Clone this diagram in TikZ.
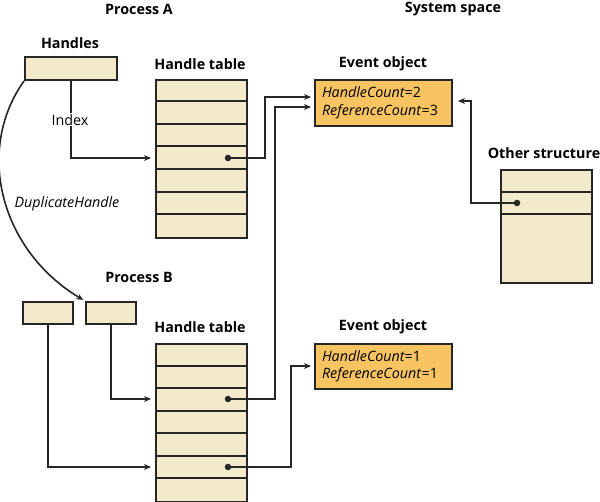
\documentclass[tikz,border=0pt]{standalone}
\usepackage{fontspec}
\setmainfont{Open Sans}
\usetikzlibrary{arrows.meta,calc}
\definecolor{beige}{HTML}{F2EACB}
\definecolor{orangec}{HTML}{F8C462}
\definecolor{linec}{HTML}{262626}
\begin{document}
\begin{tikzpicture}[x=1pt,y=-1pt,
  every node/.style={font=\fontsize{14.3}{16}\selectfont},
  title/.style={font=\fontsize{14.3}{16}\selectfont\bfseries, inner sep=0pt},
  tbl/.style={draw=linec, fill=beige, line width=2pt, inner sep=0pt, anchor=north west, minimum width=91pt},
  hbox/.style={draw=linec, fill=beige, line width=2pt, inner sep=0pt, anchor=north west, minimum height=22pt},
  sep/.style={draw=linec, line width=2pt},
  evbox/.style={draw=linec, fill=orangec, line width=2pt, anchor=north west, minimum width=137pt, minimum height=46pt, align=left, inner xsep=7pt, inner ysep=0pt, text width=123pt, font=\fontsize{14.3}{17.5}\selectfont\itshape},
  conn/.style={draw=linec, line width=2pt, -{Stealth[length=7pt,width=6pt]}, shorten >=4pt},
  dot/.style={circle, fill=linec, inner sep=0pt, minimum size=6.5pt}
]
\useasboundingbox (0,0) rectangle (600,502);

% titles
\node[title] (tPA) at (139,9) {Process A};
\node[title] (tSS) at (453,9) {System space};
\node[title] (tH) at (70,43) {Handles};
\node[title] (tHTA) at (200,64) {Handle table};
\node[title] (tEOA) at (383,64) {Event object};
\node[title] (tOS) at (544,153) {Other structure};
\node[title] (tPB) at (139,277) {Process B};
\node[title] (tHTB) at (200,327) {Handle table};
\node[title] (tEOB) at (383,327) {Event object};

% handles
\node[hbox, minimum width=92pt, minimum height=23pt] (hA) at (24,56) {};
\node[hbox, minimum width=50pt] (hB1) at (22,301) {};
\node[hbox, minimum width=50pt] (hB2) at (85,301) {};

% tables
\node[tbl, minimum height=158pt] (tA) at (155,79) {};
\node[tbl, minimum height=158pt] (tB) at (155,343) {};
\foreach \y in {101,124,146,169,192,214} {
  \draw[sep] (tA.west |- 0,\y) -- (tA.east |- 0,\y);
}
\foreach \y in {366,388,411,433,456,478} {
  \draw[sep] (tB.west |- 0,\y) -- (tB.east |- 0,\y);
}
\coordinate (ra4) at (200,158);
\coordinate (rb3) at (200,399);
\coordinate (rb6) at (200,467);

% other structure
\node[tbl, minimum height=113pt] (os) at (500,169) {};
\draw[sep] (os.west |- 0,192) -- (os.east |- 0,192);
\draw[sep] (os.west |- 0,214) -- (os.east |- 0,214);
\coordinate (osr) at (545,203);

% event objects
\node[evbox] (evA) at (314,79) {\textit{HandleCount}\upshape=2\\\textit{ReferenceCount}\upshape=3};
\node[evbox, minimum height=45pt] (evB) at (314,343) {\textit{HandleCount}\upshape=1\\\textit{ReferenceCount}\upshape=1};

% dots
\node[dot] (dA) at (ra4 -| 228,0) {};
\node[dot] (dB3) at (rb3 -| 228,0) {};
\node[dot] (dB6) at (rb6 -| 228,0) {};
\node[dot] (dO) at (osr -| 517,0) {};

% connectors
\draw[conn] (hA.south) |- (tA.west |- ra4);
\node[fill=white, inner sep=1pt] (idx) at (70,120) {Index};
\draw[conn, shorten >=3pt] (dA.center) -| (265,97) -- (evA.west |- 0,97);
\draw[conn, shorten >=3pt] (dB3.center) -| (275,107) -- (evA.west |- 0,107);
\draw[conn] (hB2.south) |- (tB.west |- rb3);
\draw[conn] (hB1.south) |- (tB.west |- rb6);
\draw[conn, shorten >=3pt] (dB6.center) -| (291,366) -- (evB.west |- 0,366);
\draw[conn, shorten >=5pt] (dO.center) -| (471,101) -- (evA.east |- 0,101);
\draw[conn, line width=1.6pt, shorten >=2pt] (hA.south west) .. controls (-25,150) and (0,250) .. (hB2.north west);
\node[inner sep=0pt, font=\fontsize{14.3}{16}\selectfont\itshape] (dup) at (67,204) {DuplicateHandle};
\end{tikzpicture}
\end{document}
